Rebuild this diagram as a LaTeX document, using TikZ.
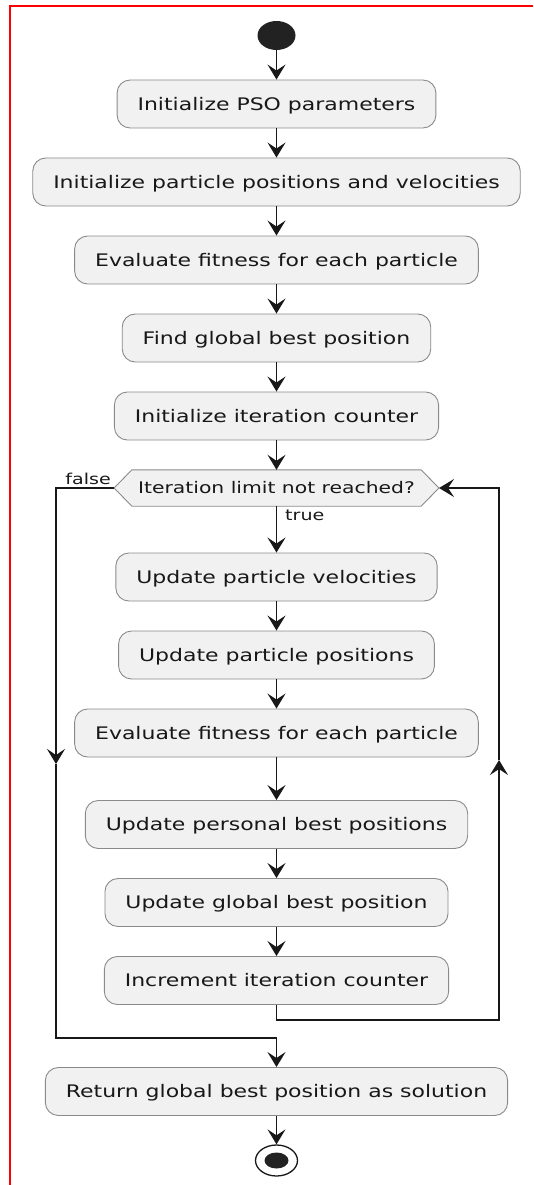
\documentclass[tikz,border=0pt]{standalone}
\usepackage{fontspec}
\setmainfont{DejaVu Sans}[FakeStretch=1.27]
\usetikzlibrary{arrows.meta,shapes.geometric}
\definecolor{boxfill}{HTML}{F1F1F1}
\definecolor{ink}{HTML}{181818}
\definecolor{boxline}{HTML}{8A8A8A}
\definecolor{dot}{HTML}{222222}
\pgfdeclarelayer{bg}
\pgfsetlayers{bg,main}
\begin{document}
\begin{tikzpicture}[x=1pt,y=-1pt,
  act/.style={draw=boxline, line width=0.9pt, fill=boxfill, rounded corners=13pt,
    minimum height=48pt, inner xsep=20.5pt, inner ysep=0pt, text height=12.6pt, text depth=0pt,
    font=\fontsize{17.3}{20}\selectfont, text=ink},
  hexnode/.style={minimum height=36pt, inner xsep=6pt, inner ysep=0pt, text height=11.7pt, text depth=0pt,
    font=\fontsize{16}{19}\selectfont, text=ink},
  lbl/.style={font=\fontsize{15}{18}\selectfont, inner sep=0pt, text=ink},
  conn/.style={draw=ink, line width=1.4pt, -{Stealth[length=15pt,width=18pt,inset=6pt]}},
  startdot/.style={ellipse, fill=dot, minimum width=38pt, minimum height=29pt, inner sep=0pt},
  endring/.style={ellipse, draw=ink, line width=1.3pt, fill=white, minimum width=42pt, minimum height=31pt, inner sep=0pt},
  enddot/.style={ellipse, fill=dot, minimum width=24pt, minimum height=16pt, inner sep=0pt},
]
\useasboundingbox (0,0) rectangle (533,1185);

\node[startdot] (start) at (276.5,35.5) {};
\node[act] (b1) at (276.5,104) {Initialize PSO parameters};
\node[act] (b2) at (276.5,182) {Initialize particle positions and velocities};
\node[act] (b3) at (276.5,260) {Evaluate fitness for each particle};
\node[act] (b4) at (276.5,338) {Find global best position};
\node[act] (b5) at (276.5,416) {Initialize iteration counter};
\node[hexnode] (hex) at (276.5,488) {Iteration limit not reached?};
\coordinate (hexL) at ([xshift=-18pt]hex.west);
\coordinate (hexR) at ([xshift=18pt]hex.east);
\begin{pgfonlayer}{bg}
\draw[draw=boxline, fill=boxfill, line width=0.9pt] (hexL) -- (hex.north west) -- (hex.north east) -- (hexR) -- (hex.south east) -- (hex.south west) -- cycle;
\end{pgfonlayer}
\node[act] (b6) at (276.5,577) {Update particle velocities};
\node[act] (b7) at (276.5,655) {Update particle positions};
\node[act] (b8) at (276.5,733) {Evaluate fitness for each particle};
\node[act] (b9) at (276.5,824.5) {Update personal best positions};
\node[act] (b10) at (276.5,902.5) {Update global best position};
\node[act] (b11) at (276.5,980.5) {Increment iteration counter};
\node[act] (b12) at (276.5,1091.5) {Return global best position as solution};
\node[endring] (endc) at (276.5,1160.5) {};
\node[enddot] (endin) at (endc.center) {};

\node[lbl, anchor=base east] (lfalse) at (111,484) {false};
\node[lbl, anchor=base west] (ltrue) at (285,520) {true};

\coordinate (loopB) at (499,1020);
\coordinate (loopM) at (499,760);
\coordinate (loopT) at (499,488);
\coordinate (falseL) at (56,488);
\coordinate (falseM) at (56,764);
\coordinate (falseB) at (56,1038);
\coordinate (joinP) at (276.5,1038);

\draw[conn] (start) -- (b1);
\draw[conn] (b1) -- (b2);
\draw[conn] (b2) -- (b3);
\draw[conn] (b3) -- (b4);
\draw[conn] (b4) -- (b5);
\draw[conn] (b5) -- (hex);
\draw[conn] (hex) -- (b6);
\draw[conn] (b6) -- (b7);
\draw[conn] (b7) -- (b8);
\draw[conn] (b8) -- (b9);
\draw[conn] (b9) -- (b10);
\draw[conn] (b10) -- (b11);
\draw[conn] (b11.south) |- (loopB) -- (loopM);
\draw[conn] (loopM) -- (loopT) -- (hexR);
\draw[conn] (hexL) -- (falseL) -- (falseM);
\draw[conn] (falseM) -- (falseB) -- (joinP) -- (b12.north);
\draw[conn] (b12) -- (endc);

\draw[red, line width=1.6pt] (10,1185) -- (10,6) -- (533,6);
\end{tikzpicture}
\end{document}
